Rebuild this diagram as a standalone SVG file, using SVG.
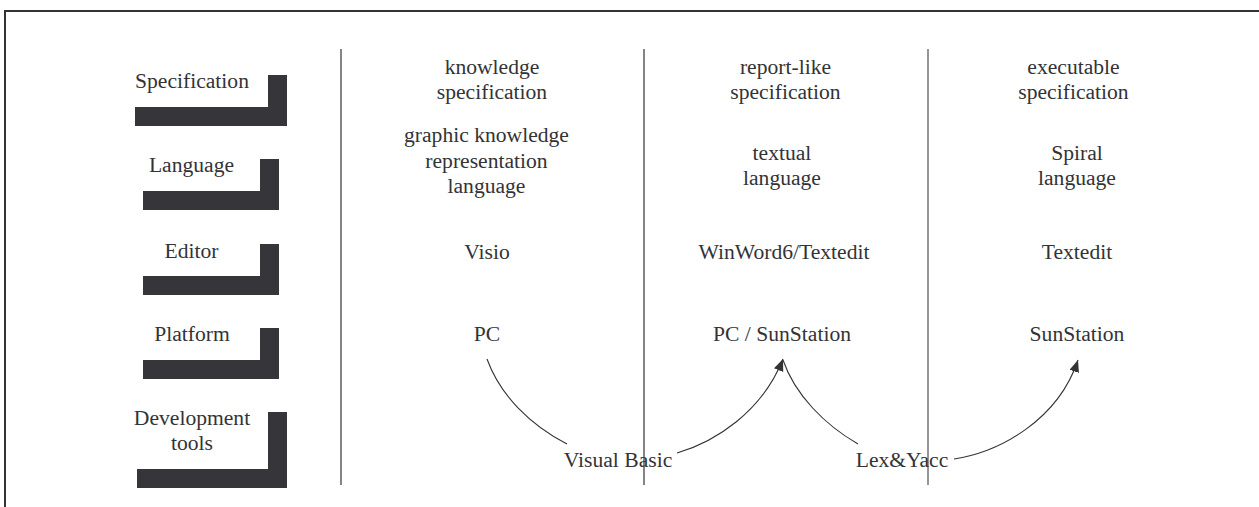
<svg xmlns="http://www.w3.org/2000/svg" width="1259" height="507" viewBox="0 0 1259 507">
  <defs>
    <style>
      text { font-family: 'Liberation Serif', 'DejaVu Serif', serif; font-size: 21.6px; fill: #333336; text-anchor: middle; }
      .bar { fill: #36353a; }
      .frame { stroke: #333336; stroke-width: 2; fill: none; }
      .divider { stroke: #333336; stroke-width: 1.2; fill: none; }
      .divider.light { stroke: #8a8a8a; stroke-width: 1.8; }
      .conn { stroke: #333336; stroke-width: 1.1; fill: none; }
    </style>
    <marker id="arrow" markerUnits="userSpaceOnUse" markerWidth="14" markerHeight="12" refX="12" refY="5" orient="auto">
      <path d="M0,0 L12,5 L0,10 Z" fill="#333336"/>
    </marker>
  </defs>

  <rect width="1259" height="507" fill="#ffffff"/>

  <!-- outer frame: top and left edges only -->
  <path class="frame" d="M5,507 L5,11 L1259,11"/>

  <!-- column dividers -->
  <g id="dividers">
    <line class="divider" x1="341" y1="49" x2="341" y2="485"/>
    <line class="divider" x1="644" y1="49" x2="644" y2="485"/>
    <line class="divider light" x1="928" y1="49" x2="928" y2="485"/>
  </g>

  <!-- row headings with step-shaped bars -->
  <g id="row-specification">
    <path class="bar" d="M268,75 H287 V126 H135 V107 H268 Z"/>
    <text x="192" y="88">Specification</text>
  </g>
  <g id="row-language">
    <path class="bar" d="M260,159 H279 V210 H143 V191 H260 Z"/>
    <text x="191.5" y="172">Language</text>
  </g>
  <g id="row-editor">
    <path class="bar" d="M260,244 H279 V295 H143 V276 H260 Z"/>
    <text x="191.5" y="258">Editor</text>
  </g>
  <g id="row-platform">
    <path class="bar" d="M260,328 H279 V379 H143 V360 H260 Z"/>
    <text x="192" y="341">Platform</text>
  </g>
  <g id="row-devtools">
    <path class="bar" d="M268,412 H287 V488 H137 V469 H268 Z"/>
    <text x="192" y="425">Development</text>
    <text x="192" y="450">tools</text>
  </g>

  <!-- column 1 -->
  <g id="col1-spec">
    <text x="492" y="74">knowledge</text>
    <text x="492" y="99">specification</text>
  </g>
  <g id="col1-lang">
    <text x="486.5" y="142">graphic knowledge</text>
    <text x="486.5" y="167.5">representation</text>
    <text x="486.5" y="193">language</text>
  </g>
  <g id="col1-editor"><text x="487" y="259">Visio</text></g>
  <g id="col1-platform"><text x="487" y="341">PC</text></g>

  <!-- column 2 -->
  <g id="col2-spec">
    <text x="785.5" y="74">report-like</text>
    <text x="785.5" y="99">specification</text>
  </g>
  <g id="col2-lang">
    <text x="782" y="160">textual</text>
    <text x="782" y="185">language</text>
  </g>
  <g id="col2-editor"><text x="784" y="259">WinWord6/Textedit</text></g>
  <g id="col2-platform"><text x="782" y="341">PC / SunStation</text></g>

  <!-- column 3 -->
  <g id="col3-spec">
    <text x="1073.5" y="74">executable</text>
    <text x="1073.5" y="99">specification</text>
  </g>
  <g id="col3-lang">
    <text x="1077" y="160">Spiral</text>
    <text x="1077" y="185">language</text>
  </g>
  <g id="col3-editor"><text x="1077" y="259">Textedit</text></g>
  <g id="col3-platform"><text x="1077" y="341">SunStation</text></g>

  <!-- tool labels -->
  <g id="tool-vb"><text x="618" y="467">Visual Basic</text></g>
  <g id="tool-lexyacc"><text x="902" y="467">Lex&amp;Yacc</text></g>

  <!-- connectors -->
  <g id="connectors">
    <path class="conn" d="M487,359 C500,395 530,425 567,444"/>
    <path class="conn" d="M677,453 C715,442 762,412 783,359" marker-end="url(#arrow)"/>
    <path class="conn" d="M783,360 C795,395 825,425 858,444"/>
    <path class="conn" d="M954,459 C1000,452 1058,420 1078,360" marker-end="url(#arrow)"/>
  </g>
</svg>
